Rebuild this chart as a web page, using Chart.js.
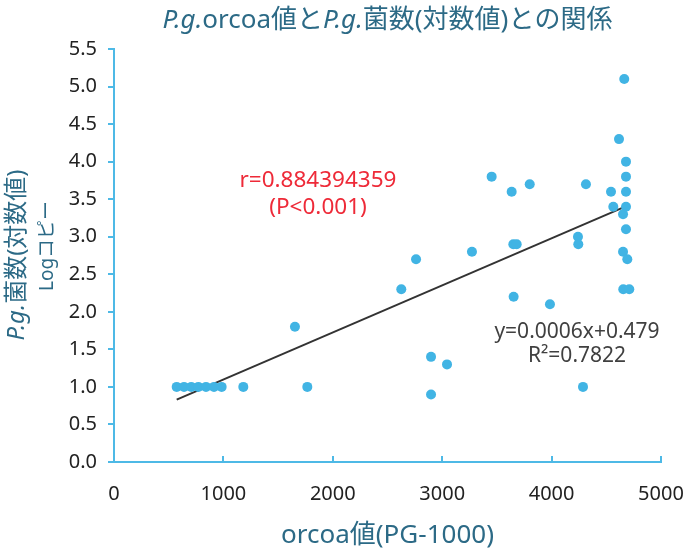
<!DOCTYPE html>
<html>
<head>
<meta charset="utf-8">
<script src="https://cdn.jsdelivr.net/npm/chart.js@4.4.1/dist/chart.umd.min.js"></script>
<style>
  html, body { margin: 0; padding: 0; background: #ffffff; }
  #wrap { width: 687px; height: 556px; position: relative; }
</style>
</head>
<body>
<div id="wrap"><canvas id="c" width="687" height="556"></canvas></div>
<script>
// ---- data ----
const xValues = [573, 640, 706, 771, 841, 914, 984, 1182, 1654, 1767,
                 2626, 2761, 2898, 2898, 3044, 3272, 3452, 3635, 3650, 3681,
                 3653, 3800, 3985, 4241, 4244, 4287, 4314, 4543, 4564, 4616,
                 4664, 4680, 4680, 4680, 4680, 4653, 4680, 4653, 4692, 4655, 4710];
const yValues = [1.0, 1.0, 1.0, 1.0, 1.0, 1.0, 1.0, 1.0, 1.8, 1.0,
                 2.3, 2.7, 1.4, 0.9, 1.3, 2.8, 3.8, 3.6, 2.9, 2.9,
                 2.2, 3.7, 2.1, 3.0, 2.9, 1.0, 3.7, 3.6, 3.4, 4.3,
                 5.1, 4.0, 3.8, 3.6, 3.4, 3.3, 3.1, 2.8, 2.7, 2.3, 2.3];
const trendSlope = 0.000627;
const trendIntercept = 0.472;
const xTicks = [0, 1000, 2000, 3000, 4000, 5000];
const yTicks = [0, 0.5, 1, 1.5, 2, 2.5, 3, 3.5, 4, 4.5, 5, 5.5];
const titleParts = [{t: 'P.g.', i: true}, {t: 'orcoa値と'}, {t: 'P.g.', i: true}, {t: '菌数(対数値)との関係'}];
const yTitle1 = [{t: 'P.g.', i: true}, {t: '菌数(対数値)'}];
const yTitle2 = 'Logコピー';
const xTitle = 'orcoa値(PG-1000)';
const rText = ['r=0.884394359', '(P<0.001)'];
const eqText = ['y=0.0006x+0.479', 'R²=0.7822'];

const FONT = '"Noto Sans", "Noto Sans CJK JP", sans-serif';
const AXIS = '#4db9e6';
const DOT = '#41b4e4';
const TEAL = '#2c6a86';

const points = xValues.map((x, k) => ({x: x, y: yValues[k]}));
const xMin = Math.min(...xValues), xMax = Math.max(...xValues);
const trend = [xMin, xMax].map(x => ({x: x, y: trendSlope * x + trendIntercept}));

function drawParts(ctx, parts, size, cx, cy) {
  let w = 0;
  parts.forEach(p => { ctx.font = (p.i ? 'italic ' : '') + size + 'px ' + FONT; p.w = ctx.measureText(p.t).width; w += p.w; });
  let x = cx - w / 2;
  ctx.textAlign = 'left';
  parts.forEach(p => { ctx.font = (p.i ? 'italic ' : '') + size + 'px ' + FONT; ctx.fillText(p.t, x, cy); x += p.w; });
}

const textPlugin = {
  id: 'texts',
  afterDraw(chart) {
    const ctx = chart.ctx;
    const ca = chart.chartArea;
    const xs = chart.scales.x;
    ctx.save();
    // inward x ticks
    ctx.strokeStyle = AXIS; ctx.lineWidth = 2;
    xTicks.forEach(v => {
      const px = Math.round(xs.getPixelForValue(v));
      ctx.beginPath(); ctx.moveTo(px, ca.bottom); ctx.lineTo(px, ca.bottom - 6); ctx.stroke();
    });
    // title
    ctx.fillStyle = TEAL; ctx.textBaseline = 'alphabetic';
    drawParts(ctx, titleParts, 26, (ca.left + ca.right) / 2, 28);
    // x title
    ctx.font = '26px ' + FONT; ctx.textAlign = 'center'; ctx.textBaseline = 'middle';
    ctx.fillText(xTitle, (ca.left + ca.right) / 2, 536);
    // y title
    ctx.save();
    ctx.translate(17, 255); ctx.rotate(-Math.PI / 2);
    ctx.textBaseline = 'middle';
    drawParts(ctx, yTitle1, 24, 0, 0);
    ctx.restore();
    ctx.save();
    ctx.translate(48, 246); ctx.rotate(-Math.PI / 2);
    ctx.textBaseline = 'middle'; ctx.textAlign = 'center';
    ctx.font = '19px ' + FONT;
    ctx.fillText(yTitle2, 0, 0);
    ctx.restore();
    // annotations
    ctx.fillStyle = '#ee2a38'; ctx.textAlign = 'center'; ctx.textBaseline = 'middle';
    ctx.font = '22.5px ' + FONT;
    ctx.fillText(rText[0], 318, 181);
    ctx.fillText(rText[1], 318, 208);
    ctx.fillStyle = '#404040';
    ctx.font = '21px ' + FONT;
    ctx.fillText(eqText[0], 577, 332);
    ctx.fillText(eqText[1], 577, 356);
    ctx.restore();
  }
};

new Chart(document.getElementById('c'), {
  type: 'scatter',
  data: {
    datasets: [
      {
        data: trend, type: 'line', showLine: true, borderColor: '#333333', borderWidth: 2,
        pointRadius: 0, fill: false, order: 2
      },
      {
        data: points, backgroundColor: DOT, borderColor: DOT, pointRadius: 5, pointHoverRadius: 5,
        borderWidth: 0, order: 1
      }
    ]
  },
  options: {
    responsive: false, animation: false, devicePixelRatio: 1,
    layout: { padding: { top: 49, right: 26, left: 0, bottom: 0 } },
    plugins: { legend: { display: false }, tooltip: { enabled: false }, title: { display: false } },
    scales: {
      x: {
        type: 'linear', min: 0, max: 5000,
        afterFit(s) { s.height = 94; s.paddingRight = 0; s.paddingLeft = 0; },
        afterBuildTicks(s) { s.ticks = xTicks.map(v => ({value: v})); },
        grid: { drawOnChartArea: false, drawTicks: false, color: AXIS },
        border: { color: AXIS, width: 2 },
        ticks: { color: '#222222', font: { family: FONT, size: 20 }, padding: 20, maxRotation: 0,
                 callback: v => String(v) }
      },
      y: {
        type: 'linear', min: 0, max: 5.5,
        afterFit(s) { s.width = 114; s.paddingTop = 0; s.paddingBottom = 0; },
        afterBuildTicks(s) { s.ticks = yTicks.map(v => ({value: v})); },
        grid: { drawOnChartArea: false, drawTicks: true, tickLength: 6, color: AXIS, lineWidth: 2 },
        border: { color: AXIS, width: 2 },
        ticks: { color: '#222222', font: { family: FONT, size: 20 }, padding: 11,
                 callback: v => v.toFixed(1) }
      }
    }
  },
  plugins: [textPlugin]
});
</script>
</body>
</html>
